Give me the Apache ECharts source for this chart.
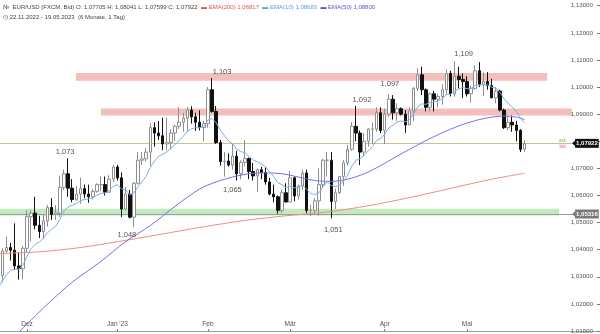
<!DOCTYPE html>
<html>
<head>
<meta charset="utf-8">
<script src="https://cdn.jsdelivr.net/npm/echarts@6/dist/echarts.min.js"></script>
<style>
  html, body { margin: 0; padding: 0; background: #ffffff; }
  #chart { width: 600px; height: 334px; }
</style>
</head>
<body>
<div id="chart"></div>
<script>
// EUR/USD daily candles (FXCM, Bid), 22.11.2022 – 19.05.2023, one row per trading day: [open, close, low, high]
const ohlc = [
  [1.0245,1.0305,1.0222,1.0310],[1.0305,1.0395,1.0280,1.0405],[1.0395,1.0408,1.0385,1.0448],[1.0408,1.0398,1.0360,1.0425],
  [1.0398,1.0340,1.0325,1.0497],[1.0340,1.0330,1.0290,1.0390],[1.0330,1.0405,1.0290,1.0414],
  [1.0405,1.0522,1.0390,1.0545],[1.0522,1.0535,1.0430,1.0545],[1.0535,1.0490,1.0475,1.0595],[1.0490,1.0467,1.0443,1.0525],
  [1.0467,1.0506,1.0440,1.0530],[1.0506,1.0556,1.0485,1.0565],[1.0556,1.0530,1.0510,1.0590],[1.0530,1.0535,1.0510,1.0565],
  [1.0535,1.0630,1.0520,1.0673],[1.0630,1.0680,1.0620,1.0695],[1.0680,1.0627,1.0595,1.0737],[1.0627,1.0585,1.0575,1.0660],
  [1.0585,1.0605,1.0580,1.0635],[1.0605,1.0625,1.0570,1.0666],[1.0625,1.0605,1.0590,1.0640],[1.0605,1.0595,1.0573,1.0640],
  [1.0595,1.0615,1.0585,1.0625],[1.0615,1.0640,1.0610,1.0645],[1.0640,1.0640,1.0615,1.0670],[1.0640,1.0612,1.0600,1.0670],
  [1.0612,1.0660,1.0610,1.0675],[1.0660,1.0705,1.0650,1.0713],
  [1.0705,1.0665,1.0655,1.0713],[1.0665,1.0550,1.0520,1.0685],[1.0550,1.0605,1.0545,1.0630],[1.0605,1.0520,1.0515,1.0620],
  [1.0520,1.0645,1.0483,1.0650],[1.0645,1.0730,1.0640,1.0760],[1.0730,1.0735,1.0712,1.0760],[1.0735,1.0760,1.0725,1.0775],
  [1.0760,1.0850,1.0710,1.0866],[1.0850,1.0830,1.0780,1.0870],[1.0830,1.0820,1.0805,1.0874],[1.0820,1.0790,1.0767,1.0887],
  [1.0790,1.0795,1.0766,1.0887],[1.0795,1.0830,1.0770,1.0845],[1.0830,1.0855,1.0800,1.0860],[1.0855,1.0870,1.0845,1.0927],
  [1.0870,1.0885,1.0835,1.0905],[1.0885,1.0915,1.0835,1.0927],[1.0915,1.0890,1.0865,1.0929],[1.0890,1.0870,1.0838,1.0905],
  [1.0870,1.0850,1.0840,1.0914],[1.0850,1.0865,1.0800,1.0875],
  [1.0865,1.0990,1.0850,1.1000],[1.0990,1.0910,1.0905,1.1033],[1.0910,1.0795,1.0790,1.0930],[1.0795,1.0725,1.0710,1.0805],
  [1.0725,1.0727,1.0669,1.0760],[1.0727,1.0712,1.0706,1.0755],[1.0712,1.0745,1.0695,1.0790],[1.0745,1.0680,1.0655,1.0765],
  [1.0680,1.0722,1.0660,1.0730],[1.0722,1.0736,1.0708,1.0805],[1.0736,1.0688,1.0660,1.0740],[1.0688,1.0672,1.0655,1.0720],
  [1.0672,1.0695,1.0613,1.0700],[1.0695,1.0685,1.0660,1.0705],[1.0685,1.0650,1.0640,1.0705],[1.0650,1.0605,1.0600,1.0665],
  [1.0605,1.0595,1.0575,1.0640],[1.0595,1.0545,1.0533,1.0600],[1.0545,1.0610,1.0535,1.0620],[1.0610,1.0576,1.0575,1.0645],
  [1.0576,1.0665,1.0575,1.0690],[1.0665,1.0598,1.0578,1.0670],[1.0598,1.0635,1.0585,1.0640],[1.0635,1.0683,1.0620,1.0695],
  [1.0683,1.0545,1.0535,1.0695],[1.0545,1.0545,1.0524,1.0565],[1.0545,1.0580,1.0530,1.0590],[1.0580,1.0640,1.0525,1.0700],
  [1.0640,1.0730,1.0630,1.0735],[1.0730,1.0730,1.0670,1.0760],[1.0730,1.0578,1.0516,1.0760],[1.0578,1.0610,1.0550,1.0625],
  [1.0610,1.0670,1.0605,1.0670],[1.0670,1.0720,1.0635,1.0730],[1.0720,1.0770,1.0710,1.0787],[1.0770,1.0855,1.0765,1.0870],
  [1.0855,1.0830,1.0800,1.0930],[1.0830,1.0760,1.0712,1.0840],[1.0760,1.0800,1.0745,1.0830],[1.0800,1.0845,1.0780,1.0848],
  [1.0845,1.0845,1.0790,1.0870],[1.0845,1.0905,1.0835,1.0925],[1.0905,1.0840,1.0830,1.0925],
  [1.0840,1.0900,1.0790,1.0920],[1.0900,1.0955,1.0890,1.0973],[1.0955,1.0905,1.0880,1.0970],[1.0905,1.0920,1.0875,1.0940],
  [1.0920,1.0900,1.0895,1.0925],[1.0900,1.0860,1.0831,1.0915],[1.0860,1.0912,1.0860,1.0925],[1.0912,1.0995,1.0875,1.1000],
  [1.0995,1.1045,1.0985,1.1070],[1.1045,1.0990,1.0970,1.1075],[1.0990,1.0925,1.0910,1.0995],[1.0925,1.0975,1.0910,1.0980],
  [1.0975,1.0955,1.0910,1.0985],[1.0955,1.0965,1.0925,1.0975],[1.0965,1.0990,1.0935,1.1010],[1.0990,1.1050,1.0970,1.1065],
  [1.1050,1.0975,1.0965,1.1060],[1.0975,1.1040,1.0965,1.1095],[1.1040,1.1028,1.0995,1.1075],[1.1028,1.1020,1.0960,1.1050],
  [1.1020,1.0975,1.0965,1.1040],[1.0975,1.0995,1.0943,1.1005],[1.0995,1.1060,1.0990,1.1080],[1.1060,1.1010,1.1000,1.1092],
  [1.1010,1.1020,1.0967,1.1054],[1.1020,1.1005,1.0990,1.1055],[1.1005,1.0960,1.0960,1.1030],[1.0960,1.0985,1.0940,1.1000],
  [1.0985,1.0915,1.0910,1.0990],[1.0915,1.0850,1.0845,1.0920],[1.0850,1.0870,1.0840,1.0895],[1.0870,1.0860,1.0835,1.0895],
  [1.0860,1.0840,1.0800,1.0875],[1.0840,1.0770,1.0760,1.0845],[1.07705,1.07922,1.07599,1.08041]
];

// EMA(10), one value per trading day
const ema10 = [
  1.0260,1.0285,1.0307,1.0324,1.0327,1.0328,1.0342,1.0375,1.0404,1.0420,
  1.0428,1.0442,1.0463,1.0475,1.0486,1.0512,1.0543,1.0558,1.0563,1.0571,
  1.0581,1.0585,1.0587,1.0592,1.0601,1.0608,1.0609,1.0618,1.0634,1.0640,
  1.0624,1.0620,1.0602,1.0610,1.0632,1.0651,1.0671,1.0704,1.0727,1.0744,
  1.0752,1.0760,1.0773,1.0788,1.0803,1.0818,1.0836,1.0846,1.0850,1.0850,
  1.0853,1.0878,1.0884,1.0868,1.0842,1.0821,1.0801,1.0791,1.0771,1.0762,
  1.0757,1.0744,1.0731,1.0724,1.0717,1.0705,1.0687,1.0670,1.0647,1.0640,
  1.0628,1.0635,1.0628,1.0629,1.0639,1.0622,1.0608,1.0603,1.0610,1.0632,
  1.0650,1.0637,1.0632,1.0639,1.0654,1.0675,1.0708,1.0730,1.0735,1.0747,
  1.0765,1.0780,1.0803,1.0810,1.0826,1.0849,1.0859,1.0870,1.0875,1.0872,
  1.0879,1.0900,1.0926,1.0938,1.0936,1.0943,1.0945,1.0949,1.0956,1.0973,
  1.0973,1.0985,1.0993,1.0998,1.0994,1.0994,1.1006,1.1007,1.1009,1.1008,
  1.0999,1.0996,1.0981,1.0957,1.0941,1.0926,1.0910,1.0885,1.08683
];

// EMA(50) and EMA(200) as [trading-day index, value]
const ema50 = [
  [0,1.0020],[3,1.0066],[7,1.0125],[11,1.0185],[18,1.0280],[25,1.0357],[31,1.0430],[37,1.0489],
  [43,1.0560],[49,1.0624],[53,1.0650],[57,1.0668],[61,1.0680],[65,1.0683],[69,1.0680],[73,1.0668],
  [77,1.0655],[81,1.0652],[85,1.0660],[89,1.0680],[93,1.0710],[97,1.0745],[101,1.0778],[105,1.0810],
  [109,1.0838],[113,1.0862],[117,1.0880],[120,1.0889],[123,1.0893],[126,1.0889],[128,1.08800]
];
const ema200 = [
  [0,1.0386],[10,1.0392],[20,1.0408],[32,1.0437],[40,1.0458],[49,1.0482],[60,1.0508],[70,1.0525],
  [80,1.0539],[90,1.0562],[100,1.0592],[110,1.0626],[120,1.0660],[128,1.06817]
];

// Month starts on the time axis (trading-day index) and their labels
const monthStarts = [7, 29, 51, 71, 94, 114];
const monthNames = ['Dez', "Jan '23", 'Feb', 'Mär', 'Apr', 'Mai'];

// Marked price zones: [from day, to day, lower, upper]
const resistanceZones = [[18.9, 133.5, 1.1023, 1.1052], [25.0, 139.5, 1.0895, 1.0921]];
const supportZones = [[0.0, 136.4, 1.0526, 1.0551]];

// Horizontal levels: last price and support line
const lastPrice = 1.07922;
const supportLine = 1.05316;

// Swing highs / lows annotated on the chart: [day index, price, text]
const swings = [
  [17, 1.0737, '1,073'], [33, 1.0483, '1,048'], [52, 1.1033, '1,103'], [55, 1.0669, '1,065'],
  [81, 1.0516, '1,051'], [87, 1.0930, '1,092'], [95, 1.0973, '1,097'], [111, 1.1095, '1,109']
];
// where each annotation sits relative to its swing point
const swingOffsets = [[-3,-6],[-7,8],[10,-6],[8,13],[2,12],[6,-6],[1,-10],[9,-7]];

const fmt = v => Number(v).toFixed(5).replace('.', ',');

const BAR_PX = 4.112;              // horizontal spacing of one trading day
const X_MIN = 0.434;
const X_MAX = X_MIN + 600 / BAR_PX;
const LEVEL_END = 139.8;            // where the level lines meet their price tags

const last = ohlc[ohlc.length - 1];
const ema10Last = ema10[ema10.length - 1];
const ema50Last = ema50[ema50.length - 1][1];
const ema200Last = ema200[ema200.length - 1][1];

const chart = echarts.init(document.getElementById('chart'));

const zoneItem = (z, color) => [
  { coord: [z[0], z[2]], itemStyle: { color } },
  { coord: [z[1], z[3]] }
];

const tagLabel = (bg, value) => ({
  show: true, position: 'end', distance: 2,
  formatter: fmt(value),
  backgroundColor: bg, color: '#ffffff', fontWeight: 'bold',
  fontSize: 6, fontFamily: 'Liberation Sans', padding: [2, 1, 1, 1]
});

const option = {
  animation: false,
  backgroundColor: '#ffffff',
  textStyle: { fontFamily: 'Liberation Sans' },
  grid: { left: 0, right: 0, top: 0, bottom: 1 },
  xAxis: {
    type: 'value', min: X_MIN, max: X_MAX,
    splitLine: { show: false },
    axisLine: { show: true, onZero: false, lineStyle: { color: '#a0a0a0', width: 1 } },
    axisTick: { show: true, inside: true, length: 2, customValues: monthStarts, lineStyle: { color: '#777' } },
    axisLabel: {
      inside: true, margin: 3, customValues: monthStarts,
      formatter: v => monthNames[monthStarts.indexOf(Math.round(v))] || '',
      fontSize: 6.5, color: '#555', fontFamily: 'Liberation Sans'
    }
  },
  yAxis: {
    type: 'value', position: 'right', min: 1.01, max: 1.1321, interval: 0.01, scale: true,
    splitLine: { show: false },
    axisLine: { show: false },
    axisTick: { show: true, inside: true, length: 3, lineStyle: { color: '#777' } },
    axisLabel: {
      inside: true, margin: 7, fontSize: 6.2, color: '#555', fontFamily: 'Liberation Sans',
      showMaxLabel: false,
      formatter: v => (Math.abs(v - 1.08) < 1e-9 ? '' : fmt(v))
    }
  },
  graphic: [{
    type: 'text', left: 3, top: 1, z: 20,
    style: {
      text:
        '{ic|№} {t|EUR/USD (FXCM, Bid) O: ' + fmt(last[0]) + ' H: ' + fmt(last[3]) +
        ' L: ' + fmt(last[2]) + ' C: ' + fmt(last[1]) + '} ' +
        '{r|▬ EMA(200) ' + fmt(ema200Last) + '} ' +
        '{b|▬ EMA(10) ' + fmt(ema10Last) + '} ' +
        '{p|▬ EMA(50) ' + fmt(ema50Last) + '}\n' +
        '{t|◷ 22.11.2022 - 19.05.2023  (6 Monate, 1 Tag)}',
      rich: {
        ic: { fontSize: 6, fill: '#555', fontFamily: 'DejaVu Sans', lineHeight: 8 },
        t: { fontSize: 6, fill: '#444', fontFamily: 'Liberation Sans', lineHeight: 8 },
        r: { fontSize: 6, fill: '#e8504f', fontFamily: 'Liberation Sans', lineHeight: 8 },
        b: { fontSize: 6, fill: '#5b9be0', fontFamily: 'Liberation Sans', lineHeight: 8 },
        p: { fontSize: 6, fill: '#5e4fd8', fontFamily: 'Liberation Sans', lineHeight: 8 }
      }
    }
  }],
  series: [
    {
      name: 'EMA(200)', type: 'line', z: 3, silent: true, showSymbol: false, smooth: 0.3,
      data: ema200, lineStyle: { color: '#f08c88', width: 1 },
      markArea: {
        silent: true, z: 1, label: { show: false },
        data: resistanceZones.map(z => zoneItem(z, 'rgba(230,128,124,0.5)'))
          .concat(supportZones.map(z => zoneItem(z, 'rgba(120,208,112,0.45)')))
      }
    },
    {
      name: 'EURUSD', type: 'candlestick', z: 2, barWidth: 3,
      data: ohlc.map((r, i) => [i, r[0], r[1], r[2], r[3]]),
      encode: { x: 0, y: [1, 2, 3, 4] },
      itemStyle: {
        color: '#ffffff', color0: '#111111',
        borderColor: '#8e8e8e', borderColor0: '#111111', borderWidth: 1
      },
      markLine: {
        silent: true, z: 1.5, symbol: ['none', 'none'], animation: false,
        data: [
          [{ coord: [X_MIN, lastPrice], lineStyle: { color: '#c6c68a', width: 1, type: 'solid' }, label: tagLabel('#111111', lastPrice) },
           { coord: [LEVEL_END, lastPrice] }],
          [{ coord: [X_MIN, supportLine], lineStyle: { color: '#9c9c9c', width: 1, type: 'solid' }, label: tagLabel('#7a7a7a', supportLine) },
           { coord: [LEVEL_END, supportLine] }]
        ]
      },
      markPoint: {
        silent: true, z: 6,
        data: swings.map((s, i) => ({
          coord: [s[0], s[1]], symbol: 'circle', symbolSize: 0,
          label: {
            show: true, position: 'inside', formatter: s[2], offset: swingOffsets[i],
            fontSize: 7.5, color: '#555', fontFamily: 'Liberation Sans'
          }
        })).concat([
          { coord: [LEVEL_END, lastPrice], symbol: 'triangle', symbolRotate: 90, symbolSize: [7, 4], symbolOffset: [1, 0], itemStyle: { color: '#111111' }, label: { show: false } },
          { coord: [LEVEL_END, supportLine], symbol: 'triangle', symbolRotate: 90, symbolSize: [7, 4], symbolOffset: [1, 0], itemStyle: { color: '#7a7a7a' }, label: { show: false } },
          { coord: [LEVEL_END - 2.6, lastPrice], symbol: 'circle', symbolSize: 0,
            label: { show: true, position: 'inside', formatter: 'ask', offset: [0, -3], fontSize: 4.5, color: '#6cbf6c' } },
          { coord: [LEVEL_END - 2.6, lastPrice], symbol: 'circle', symbolSize: 0,
            label: { show: true, position: 'inside', formatter: 'bid', offset: [0, 3], fontSize: 4.5, color: '#e06a6a' } }
        ])
      }
    },
    {
      name: 'EMA(50)', type: 'line', z: 3, silent: true, showSymbol: false, smooth: 0.3,
      data: ema50, lineStyle: { color: '#7a6ee8', width: 1 }
    },
    {
      name: 'EMA(10)', type: 'line', z: 3, silent: true, showSymbol: false,
      data: ema10.map((v, i) => [i, v]), lineStyle: { color: '#79aee6', width: 1 }
    }
  ]
};

chart.setOption(option);
</script>
</body>
</html>
